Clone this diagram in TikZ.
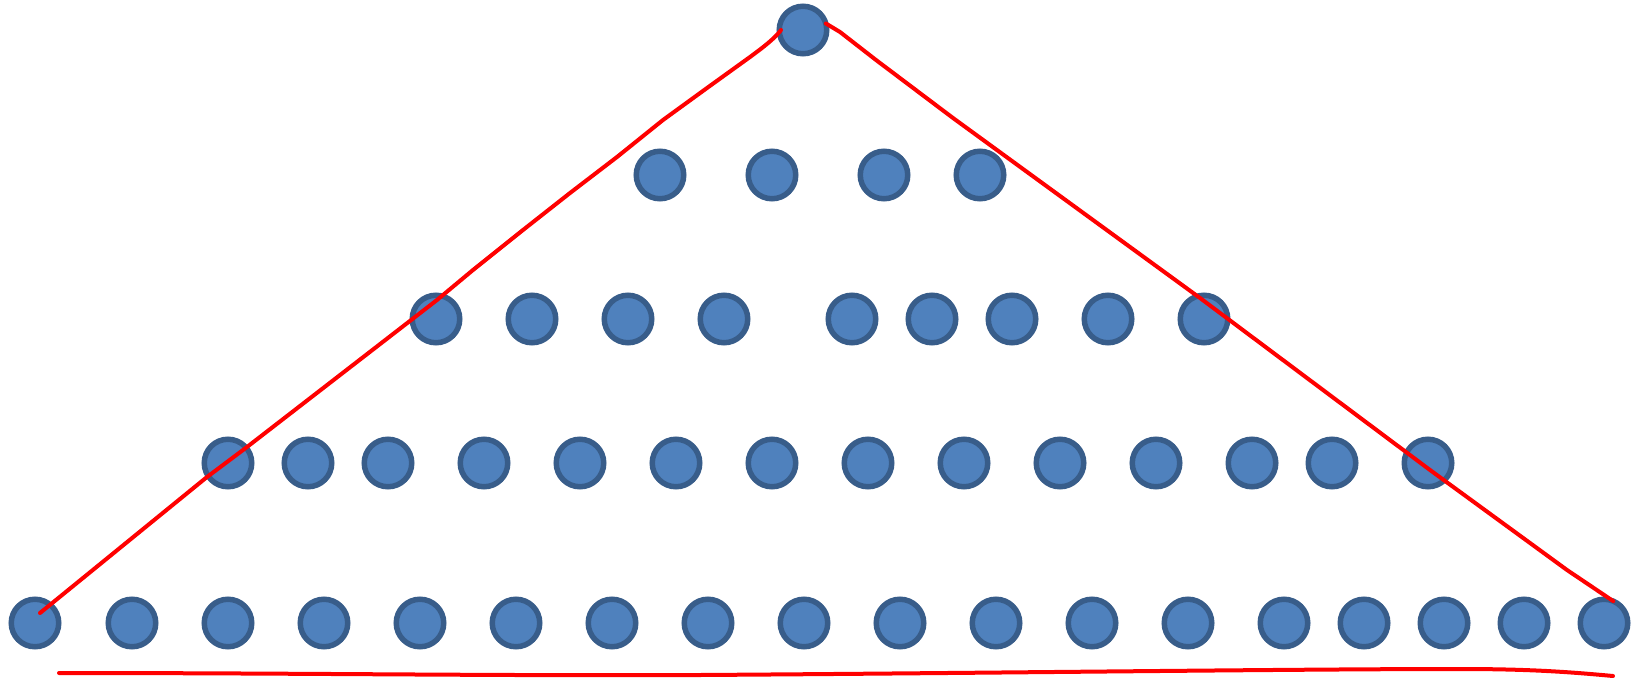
\documentclass[tikz,border=0pt]{standalone}
\usepackage{tikz}
\definecolor{dotfill}{HTML}{4F81BD}
\definecolor{dotline}{HTML}{385D8A}
\definecolor{pen}{HTML}{FF0000}
\begin{document}
\begin{tikzpicture}[x=1pt,y=-1pt,
  dot/.style={circle,draw=dotline,fill=dotfill,line width=5.5pt,minimum size=47.5pt,inner sep=0pt,outer sep=0pt},
  redline/.style={draw=pen,line width=4pt,line join=round,line cap=round}]
\useasboundingbox (0,0) rectangle (1636,680);
% row 1
\node[dot] (top) at (803,30) {};
% row 2
\foreach \x [count=\i] in {660,772,884,980}
  \node[dot] (r2-\i) at (\x,175) {};
% row 3
\foreach \x [count=\i] in {436,532,628,724,852,932,1012,1108,1204}
  \node[dot] (r3-\i) at (\x,319) {};
% row 4
\foreach \x [count=\i] in {228,308,388,484,580,676,772,868,964,1060,1156,1252,1332,1428}
  \node[dot] (r4-\i) at (\x,463) {};
% row 5
\foreach \x [count=\i] in {35,132,228,324,420,516,612,708,804,900,996,1092,1188,1284,1364,1444,1524,1604}
  \node[dot] (r5-\i) at (\x,623) {};
% red strokes
\draw[redline] ([shift={(5,-10)}]r5-1.center) -- (83,578) -- (207,477) -- (247,447)
  -- (437,300) -- (473,270) -- (523,230) -- (570,193) -- (617,157) -- (663,120)
  -- (707,88) -- (750,57)
  .. controls (765,46) and (775,38) .. ([shift={(-22,0)}]top.center);
\draw[redline] (top.16) -- (840,32) -- (876,60) -- (953,118) -- (1200,298) -- (1430,470)
  -- (1567,570) -- (r5-18.67);
\coordinate (u1) at (59,673);
\coordinate (u2) at (1613,676);
\draw[redline] (u1) .. controls (300,673) and (500,676) .. (700,675)
  .. controls (1000,673) and (1300,669) .. (1460,669)
  .. controls (1530,669) and (1570,672) .. (u2);
\end{tikzpicture}
\end{document}
